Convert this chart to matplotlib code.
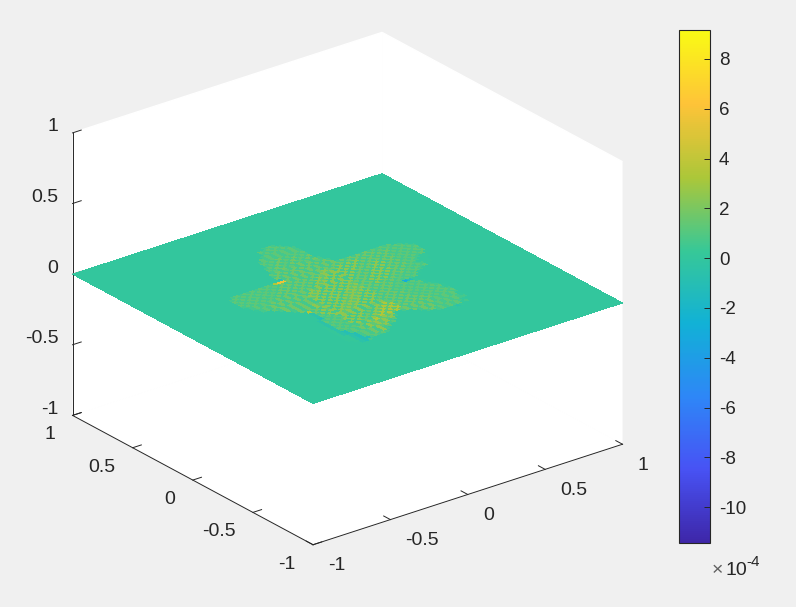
import numpy as np
import matplotlib
matplotlib.use("Agg")
import matplotlib.pyplot as plt
from matplotlib.colors import LinearSegmentedColormap, Normalize
from matplotlib.cm import ScalarMappable
from mpl_toolkits.mplot3d import proj3d

#colorbar range and ticks (x 1e-4)
c_min = -11.45
c_max = 9.15
cbar_ticks = [-10, -8, -6, -4, -2, 0, 2, 4, 6, 8]
axis_ticks = [-1, -0.5, 0, 0.5, 1]
axis_labels = ["-1", "-0.5", "0", "0.5", "1"]

parula_colors = [(0.2422, 0.1504, 0.6603), (0.2810, 0.3228, 0.9579),
                 (0.1786, 0.5289, 0.9682), (0.0689, 0.6948, 0.8394),
                 (0.2161, 0.7843, 0.5923), (0.6720, 0.7793, 0.2227),
                 (0.9970, 0.7659, 0.2199), (0.9769, 0.9839, 0.0805)]

#level of each letter in the map below
levels = {".": 0, "0": 0.2, "1": 0.7, "2": 1.3, "3": 1.8, "4": 2.5, "5": 3.4, "6": 5.5,
          "a": -0.5, "b": -1.0, "c": -3.0}

blob_rows = [
    "." * 22 + "121",
    "." * 20 + "212121",
    "." * 20 + "1212121",
    "." * 19 + "121212121",
    "." * 18 + "2121212121",
    "." * 17 + "12121212121",
    "." * 17 + "21213121212",
    "." * 17 + "12131213121",
    "." * 16 + "121312131213",
    "." * 16 + "213121312131",
    "." * 16 + "1213121312131",
    "." * 15 + "21312131313121",
    "." * 15 + "131313131313131",
    "." * 15 + "313131313131313",
    "." * 15 + "b1313131313131313131313121212",
    "." * 2 + "12121212121566313131313131313131313131212121",
    "." * 1 + "1212121212121313131313134231414141313131312121",
    "." * 1 + "21212121212131313131313424141414131313131212121",
    "." * 1 + "12121212121313131313142414414141313131312121212",
    "." * 1 + "21212121213131313131424141141413131413131212121",
    "." * 1 + "12121212131313131314241414414131314141312121212",
    "." * 1 + "01212121313131313142414141141313141413131212120",
    "." * 2 + "121213131313131424141414141313141413131212100",
    "." * 2 + "012131313131314241414141413131414141313121000",
    "." * 3 + "1213131313134241414141423131414141313121000",
    "." * 5 + "21313131312414141414241314141413131212100",
    "." * 6 + "131313131414141414242313141413131212120",
    "." * 7 + "313131311414141424241314131312121210",
    "." * 8 + "131314241414142424131313131212120",
    "." * 9 + "3131421414142424141313131212120",
    "." * 10 + "5131441414242414131313121cb0",
    "." * 10 + "a314214142424141413131212120",
    "." * 10 + "a1414414242414141313121212120",
    "." * 10 + "a2141142424141413131312121210",
    "." * 10 + "b12144242414141313131312121210",
    "." * 9 + "a121214241414131421313121212121",
    "." * 9 + "a2121241414131425231313121212120",
    "." * 9 + "a1212414141314252513131312121210",
    "." * 8 + "0a2121141413142525231313131212121",
    "." * 8 + "0a1212414131425252513131313121212",
    "." * 8 + "0a2121141314252525231313131212121",
    "." * 8 + "0a12121314252424" + "." * 2 + "131313131212120",
    "." * 8 + "0ab1213142424241" + "." * 4 + "3131312121210",
    "." * 8 + "0ab121314242412" + "." * 6 + "131312121211",
    "." * 8 + "00ab1213142412" + "." * 8 + "1312121210",
    "." * 8 + "00ab12131412" + "." * 12 + "12121201",
    "." * 8 + "00ab1213141" + "." * 16 + "0a0",
    "." * 9 + "0abb12121",
    "." * 10 + "ab1",
]

#rows and cols of the whole plane, grid step 0.025
n_cells = 80
col_start = 16
row_start = 65

plt.rcParams["font.family"] = ["Liberation Sans", "DejaVu Sans"]
plt.rcParams["xtick.major.width"] = 0.7
plt.rcParams["ytick.major.width"] = 0.7
plt.rcParams["xtick.color"] = "#262626"
plt.rcParams["ytick.color"] = "#262626"
plt.rcParams["axes.edgecolor"] = "#262626"

parula = LinearSegmentedColormap.from_list("parula", parula_colors, N=256)
norm = Normalize(c_min, c_max)

Z = np.zeros((n_cells + 1, n_cells + 1))
for i, row in enumerate(blob_rows):
    for j, ch in enumerate(row):
        Z[row_start - i, col_start + j] = levels[ch]

grid = np.linspace(-1, 1, n_cells + 1)
X, Y = np.meshgrid(grid, grid)

W = 796.0
H = 607.0
side = 617.0
fig = plt.figure(figsize=(W / 100, H / 100), dpi=100, facecolor="#f0f0f0")
ax = fig.add_axes([30.7 / W, 1.6 / H, side / W, side / H], projection="3d", facecolor="none")
ax.set_proj_type("ortho")
ax.view_init(elev=24.7, azim=-127.85)
ax.set_box_aspect((1, 1, 0.7934))
ax.set_xlim(-1, 1, view_margin=0)
ax.set_ylim(-1, 1, view_margin=0)
ax.set_zlim(-1, 1, view_margin=0)

ax.plot_surface(X, Y, Z * 1e-4, facecolors=parula(norm(Z)), rcount=n_cells + 1, ccount=n_cells + 1,
                linewidth=0, antialiased=False, shade=False)

ax.grid(False)
for axis in [ax.xaxis, ax.yaxis, ax.zaxis]:
    axis.set_pane_color("white")
    axis.pane.set_edgecolor("white")
    axis.line.set_color("#262626")
    axis.line.set_linewidth(0.7)
    axis._axinfo["tick"]["inward_factor"] = 0
    axis._axinfo["tick"]["outward_factor"] = 0.35
ax.zaxis.set_ticks_position("upper")

blank = [""] * len(axis_ticks)
ax.set_xticks(axis_ticks, blank)
ax.set_yticks(axis_ticks, blank)
ax.set_zticks(axis_ticks, blank)

#tick labels sit at a fixed pixel offset from their tick
M = ax.get_proj()
for t, lab in zip(axis_ticks, axis_labels):
    px, py, _ = proj3d.proj_transform(t, -1, -1, M)
    ax.annotate(lab, (px, py), xytext=(15, -21), textcoords="offset pixels", ha="left", va="center",
                fontsize=14, color="#262626", annotation_clip=False)
    px, py, _ = proj3d.proj_transform(-1, t, -1, M)
    ax.annotate(lab, (px, py), xytext=(-17.5, -19.5), textcoords="offset pixels", ha="right", va="center",
                fontsize=14, color="#262626", annotation_clip=False)
    px, py, _ = proj3d.proj_transform(-1, 1, t, M)
    ax.annotate(lab, (px, py), xytext=(-14, 6), textcoords="offset pixels", ha="right", va="center",
                fontsize=14, color="#262626", annotation_clip=False)

#colorbar
cax = fig.add_axes([679 / W, 1 - 543.3 / H, 31.5 / W, 513 / H])
cbar = fig.colorbar(ScalarMappable(norm=norm, cmap=parula), cax=cax, ticks=cbar_ticks)
cbar.ax.set_yticklabels([str(t) for t in cbar_ticks])
cbar.ax.tick_params(direction="in", length=4.5, width=0.7, labelsize=13.5, labelcolor="#262626", color="#262626", pad=6)
cbar.outline.set_edgecolor("#262626")
cbar.outline.set_linewidth(0.8)

fig.text(712 / W, 1 - 575 / H, "\u00d7", fontsize=14, color="#606060", va="baseline")
fig.text(725.5 / W, 1 - 575 / H, "10", fontsize=14, color="#262626", va="baseline")
fig.text(746 / W, 1 - 565.5 / H, "-4", fontsize=11, color="#262626", va="baseline")

fig.savefig("out.png", dpi=100, facecolor=fig.get_facecolor())
